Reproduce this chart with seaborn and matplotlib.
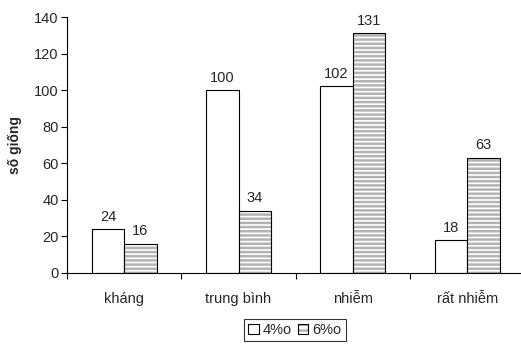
import numpy as np
import pandas as pd
import matplotlib
matplotlib.use("Agg")
import matplotlib.pyplot as plt
import matplotlib.patches as mpatches
import seaborn as sns

categories = ["kháng", "trung bình", "nhiễm", "rất nhiễm"]
series_names = ["4%o", "6%o"]
vals_4 = [24, 100, 102, 18]
vals_6 = [16, 34, 131, 63]

df = pd.DataFrame({
    "cat": categories * 2,
    "conc": [series_names[0]] * 4 + [series_names[1]] * 4,
    "val": vals_4 + vals_6,
})

sns.set_style("white")
plt.rcParams["font.family"] = ["Liberation Sans", "DejaVu Sans"]
plt.rcParams["hatch.linewidth"] = 1.8

fig = plt.figure(figsize=(5.21, 3.47), dpi=100)
ax = fig.add_axes([67 / 521, 1 - 273 / 347, 1 - 67 / 521, (273 - 17) / 347])

sns.barplot(data=df, x="cat", y="val", hue="conc", order=categories,
            palette=["white", "white"], edgecolor="black", linewidth=0.8,
            width=0.57, gap=0, legend=False, ax=ax)

# grey horizontal stripes on the 6%o bars
stripe = (0.7, 0.7, 0.7, 1)
for p in ax.containers[1]:
    p.set_hatch("----")
    p._hatch_color = stripe

for cont in ax.containers:
    ax.bar_label(cont, padding=4, fontsize=10.5)

ax.set_ylim(0, 140)
ax.set_xlim(-0.5, 3.47)
ax.set_yticks(np.arange(0, 141, 20))
ax.set_xlabel("")
ax.set_ylabel("số giống", fontsize=10, fontweight="bold", labelpad=9)
ax.tick_params(axis="y", which="major", length=4, width=0.8, direction="out",
               left=True, labelsize=10.5, pad=2, color="black")
ax.tick_params(axis="x", which="major", length=0, labelsize=10.5, pad=14)
ax.set_xticks(np.arange(-0.5, 3.5, 1), minor=True)
ax.tick_params(axis="x", which="minor", length=4, width=0.8, bottom=True,
               direction="out", color="black")
for s in ["top", "right"]:
    ax.spines[s].set_visible(False)
for s in ["left", "bottom"]:
    ax.spines[s].set_color("black")
    ax.spines[s].set_linewidth(0.8)

h1 = mpatches.Patch(facecolor="white", edgecolor="black", linewidth=0.8)
h2 = mpatches.Patch(facecolor="white", edgecolor="black", linewidth=0.8)
h2.set_hatch("---")
h2._hatch_color = stripe
leg = fig.legend([h1, h2], series_names, loc="center",
                 bbox_to_anchor=(295 / 521, 1 - 330 / 347), ncol=2,
                 fontsize=10.5, frameon=True, fancybox=False,
                 handlelength=0.7, handleheight=0.7, handletextpad=0.3,
                 columnspacing=0.4, borderpad=0.3, borderaxespad=0)
leg.get_frame().set_edgecolor("black")
leg.get_frame().set_linewidth(0.8)

fig.savefig("out.png", dpi=100)
